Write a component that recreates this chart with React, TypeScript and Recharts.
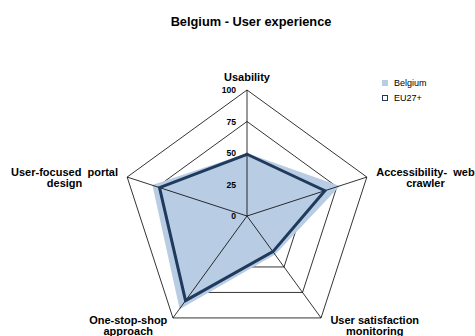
import React from 'react';
import {
  RadarChart,
  Radar,
  PolarGrid,
  PolarAngleAxis,
  PolarRadiusAxis,
  Legend,
} from 'recharts';

const categories = [
  'Usability',
  'Accessibility- web crawler',
  'User satisfaction monitoring',
  'One-stop-shop approach',
  'User-focused portal design',
];
const belgium = [49, 76, 37, 90, 78];
const eu27 = [49, 65, 35, 83, 73];
const radiusTicks = [0, 25, 50, 75, 100];
const axisMax = 100;

const data = categories.map((name, i) => ({
  name,
  belgium: belgium[i],
  eu27: eu27[i],
  spoke: axisMax,
}));

const FONT = '"Liberation Sans", Arial, sans-serif';
const FILL = '#b8cce4';
const LINE = '#1f3a5c';

// label lines and nudges for each angle axis label
const labelLayout: Record<string, { lines: string[]; dx: number; dy: number }> = {
  Usability: { lines: ['Usability'], dx: 0, dy: -5 },
  'Accessibility- web crawler': { lines: ['Accessibility-  web', 'crawler'], dx: 51, dy: 3 },
  'User satisfaction monitoring': { lines: ['User satisfaction', 'monitoring'], dx: 49, dy: 1 },
  'One-stop-shop approach': { lines: ['One-stop-shop', 'approach'], dx: -40, dy: 1 },
  'User-focused portal design': { lines: ['User-focused  portal', 'design'], dx: -55, dy: 3 },
};

const LH = 11.5;

const AngleTick = (props: any) => {
  const { x, y, payload } = props;
  const layout = labelLayout[payload.value] || { lines: [payload.value], dx: 0, dy: 0 };
  const n = layout.lines.length;
  return (
    <text
      x={x + layout.dx}
      y={y + layout.dy - ((n - 1) * LH) / 2}
      textAnchor="middle"
      dominantBaseline="central"
      fontFamily={FONT}
      fontSize={11}
      fontWeight="bold"
      fill="#000"
      style={{ whiteSpace: 'pre' }}
    >
      {layout.lines.map((l, i) => (
        <tspan key={i} x={x + layout.dx} dy={i === 0 ? 0 : LH}>
          {l}
        </tspan>
      ))}
    </text>
  );
};

const RadiusTick = (props: any) => {
  const { x, y, payload } = props;
  return (
    <text
      x={x - 11}
      y={y}
      textAnchor="end"
      dominantBaseline="central"
      fontFamily={FONT}
      fontSize={8.6}
      fontWeight="bold"
      fill="#000"
    >
      {payload.value}
    </text>
  );
};

// spokes from centre to each axis end, drawn above the Belgium fill
const Spokes = (props: any) => {
  const pts = props.points || [];
  return (
    <g>
      {pts.map((p: any, i: number) => (
        <line key={i} x1={p.cx} y1={p.cy} x2={p.x} y2={p.y} stroke="#000" strokeWidth={0.8} />
      ))}
    </g>
  );
};

const legendItems = [
  { label: 'Belgium', fill: FILL, stroke: FILL },
  { label: 'EU27+', fill: '#fff', stroke: LINE },
];

const LegendContent = () => (
  <div style={{ fontFamily: FONT, fontSize: 9 }}>
    {legendItems.map((it) => (
      <div key={it.label} style={{ display: 'flex', alignItems: 'center', height: 15 }}>
        <span
          style={{
            display: 'inline-block',
            width: 4,
            height: 4,
            background: it.fill,
            border: `1px solid ${it.stroke}`,
            marginRight: 6,
          }}
        />
        {it.label}
      </div>
    ))}
  </div>
);

export default function App() {
  return (
    <div style={{ position: 'absolute', left: 0, top: 0, width: 475, height: 336, background: '#fff' }}>
      <div
        style={{
          position: 'absolute',
          top: 14,
          left: 0,
          width: 502,
          textAlign: 'center',
          fontFamily: FONT,
          fontSize: 12.8,
          lineHeight: '16px',
          fontWeight: 'bold',
        }}
      >
        Belgium - User experience
      </div>
      <RadarChart
        width={475}
        height={336}
        data={data}
        cx={247}
        cy={216}
        outerRadius={126}
        margin={{ top: 0, right: 0, bottom: 0, left: 0 }}
        style={{ overflow: 'visible' }}
      >
        <PolarGrid
          gridType="polygon"
          radialLines={false}
          polarRadius={[31.5, 63, 94.5, 126]}
          stroke="#000"
          strokeWidth={0.8}
          strokeOpacity={1}
        />
        <Radar
          name="Belgium"
          dataKey="belgium"
          fill={FILL}
          fillOpacity={1}
          stroke={FILL}
          strokeWidth={2}
          isAnimationActive={false}
        />
        <Radar
          name="spokes"
          dataKey="spoke"
          legendType="none"
          shape={Spokes}
          isAnimationActive={false}
        />
        <Radar
          name="EU27+"
          dataKey="eu27"
          fill="none"
          fillOpacity={0}
          stroke={LINE}
          strokeWidth={3}
          isAnimationActive={false}
        />
        <PolarAngleAxis dataKey="name" tick={AngleTick} tickLine={false} axisLine={false} />
        <PolarRadiusAxis
          angle={90}
          domain={[0, axisMax]}
          ticks={radiusTicks}
          tick={RadiusTick}
          axisLine={false}
          tickLine={false}
        />
        <Legend
          layout="vertical"
          align="right"
          verticalAlign="top"
          content={LegendContent}
          wrapperStyle={{ position: 'absolute', left: 382, top: 75, width: 80 }}
        />
      </RadarChart>
    </div>
  );
}
